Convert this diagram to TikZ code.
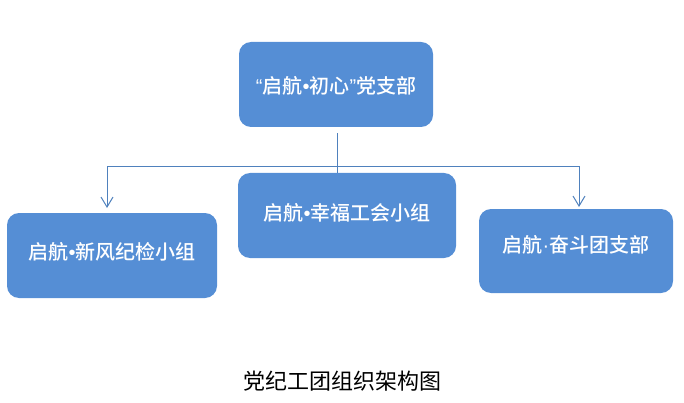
\documentclass[tikz,border=0pt]{standalone}
\usepackage{fontspec}
\setmainfont{Noto Sans CJK SC}
\newfontfamily\unitfont{Noto Sans CJK SC Medium}
\newfontfamily\latinmark{Liberation Sans}
\usetikzlibrary{arrows.meta}
\definecolor{unitblue}{RGB}{85,142,213}
\definecolor{linkblue}{RGB}{79,129,189}
\tikzset{
	unit/.style={rectangle,rounded corners=12pt,fill=unitblue,text=white,inner sep=0pt,font=\unitfont\fontsize{20}{24}\selectfont},
	link/.style={draw=linkblue,line width=1pt}
}
\newcommand{\pt}[1]{{\latinmark #1}}
\begin{document}
\begin{tikzpicture}[x=1pt,y=-1pt,>={Straight Barb[length=10pt,width=12pt]}]
			\useasboundingbox (0,0) rectangle (684,403);
			\node[unit,minimum width=194pt,minimum height=85pt,text height=20pt] (dzb) at (336,84.5) {\pt{“}启航\pt{•}初心\pt{”}党支部};
			\node[unit,minimum width=218pt,minimum height=85pt,text depth=8pt] (xfgh) at (347,215.5) {启航\pt{•}幸福工会小组};
			\node[unit,minimum width=210pt,minimum height=85pt,text depth=9pt] (xfjj) at (112,255.5) {启航\pt{•}新风纪检小组};
			\node[unit,minimum width=194pt,minimum height=84pt,text depth=14pt] (fdtz) at (576,251) {启航\pt{·}奋斗团支部};
			\coordinate (fork) at (337,167);
			\coordinate (jjtop) at (107,208);
			\coordinate (tztop) at (579,207);
			\draw[link,shorten <=6pt] (fork |- dzb.south) -- (fork |- xfgh.north);
			\draw[link,->] (fork) -| (jjtop);
			\draw[link,->] (fork) -| (tztop);
			\node[font=\fontsize{22}{26}\selectfont] (title) at (342,381) {党纪工团组织架构图};
		\end{tikzpicture}
\end{document}
